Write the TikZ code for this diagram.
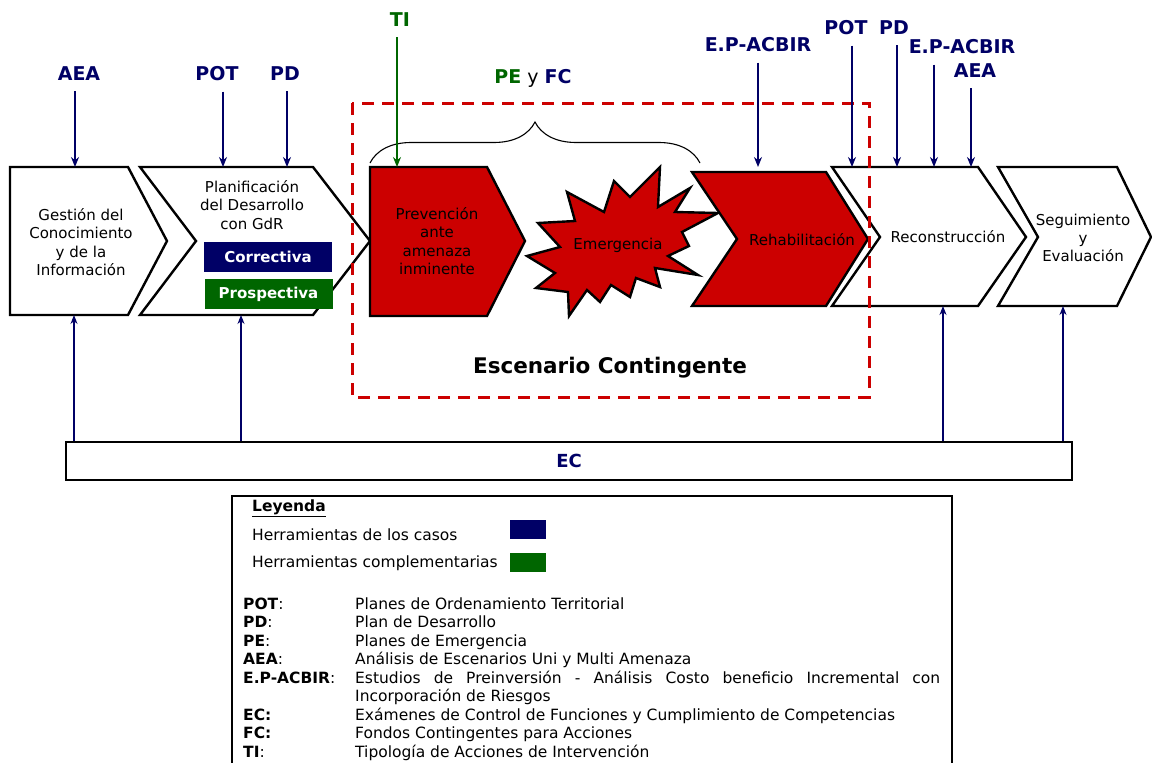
\documentclass[tikz,border=0pt]{standalone}
\usepackage{fontspec}
\setmainfont{DejaVu Sans}
\usetikzlibrary{arrows.meta,decorations.pathreplacing}
\definecolor{casos}{RGB}{0,0,102}
\definecolor{compl}{RGB}{0,102,0}
\definecolor{riesgo}{RGB}{204,0,0}
\hyphenpenalty=10000
\tikzset{
  stage/.style={draw=black, line width=2.4pt, fill=white},
  hot/.style={stage, fill=riesgo},
  txt/.style={align=center, inner sep=0pt, font=\fontsize{15}{18.3}\selectfont},
  chip/.style={inner sep=0pt, minimum width=128pt, minimum height=30pt, text=white, font=\fontsize{15}{18}\selectfont\bfseries},
  tool/.style={font=\fontsize{19}{21}\selectfont\bfseries, text=casos},
  feed/.style={draw=casos, line width=1.6pt, -{Stealth[length=10pt,width=8pt]}, shorten <=7pt},
  back/.style={draw=casos, line width=1.2pt, -{Stealth[length=9pt,width=7pt]}},
  leg/.style={anchor=west, inner sep=0pt, font=\fontsize{15.5}{18.5}\selectfont},
  swatch/.style={inner sep=0pt, minimum width=36pt, minimum height=19pt}
}
\begin{document}
\begin{tikzpicture}[x=1pt, y=-1pt]
\useasboundingbox (0,0) rectangle (1152,763);

\draw[stage] (10,167) -- (128,167) -- (167,241) -- (128,315) -- (10,315) -- cycle;
\draw[stage] (140,167) -- (313,167) -- (370,241) -- (313,315) -- (140,315) -- (196,241) -- cycle;
\draw[hot] (370,167) -- (487,167) -- (525,241) -- (487,316) -- (370,316) -- cycle;
\draw[hot] (527,256) -- (560,247) -- (538,223) -- (575,221) -- (567,192) -- (604,212) -- (614,181) -- (630,197) -- (660,167) -- (658,207) -- (690,188) -- (675,212) -- (718,213) -- (682,232) -- (689,246) -- (668,256) -- (698,275) -- (655,268) -- (660,287) -- (636,278) -- (630,297) -- (611,285) -- (600,302) -- (587,290) -- (569,316) -- (568,292) -- (536,288) -- (555,273) -- cycle;
\draw[hot] (692,172) -- (826,172) -- (868,239) -- (826,306) -- (692,306) -- (737,239) -- cycle;
\draw[stage] (832,167) -- (978,167) -- (1026,237) -- (978,306) -- (832,306) -- (880,237) -- cycle;
\draw[stage] (998,167) -- (1117,167) -- (1151,237) -- (1117,306) -- (998,306) -- (1038,237) -- cycle;

\node[txt] (gc) at (81,242) {Gestión del\\Conocimiento\\y de la\\Información};
\node[txt] (plan) at (252,205) {Planificación\\del Desarrollo\\con GdR};
\node[chip, fill=casos] (corr) at (268,257) {Correctiva};
\node[chip, fill=compl] (prosp) at (268.5,294) {Prospectiva};
\node[txt] (prev) at (437,241) {Prevención\\ante\\amenaza\\inminente};
\node[txt] (emer) at (618,245) {Emergencia};
\node[txt] (rehab) at (802,240) {Rehabilitación};
\node[txt] (recon) at (948,237) {Reconstrucción};
\node[txt] (seg) at (1083,238) {Seguimiento\\y\\Evaluación};

\draw[riesgo, line width=3pt, dash pattern=on 12pt off 8pt] (352,103) rectangle (869,397);
\node[font=\fontsize{21.5}{25}\selectfont\bfseries] (esc) at (610,368) {Escenario Contingente};
\draw[decorate, decoration={brace, amplitude=41pt}, line width=1.1pt] (370,163) -- (700,163);

\node[tool] (aea1) at (79,74) {AEA};
\node[tool] (pot1) at (217,74) {POT};
\node[tool] (pd1) at (285,74) {PD};
\node[tool, text=compl] (ti) at (400,20) {TI};
\node[font=\fontsize{19}{21}\selectfont] (pefc) at (533,78) {\textcolor{compl}{\bfseries PE} y \textcolor{casos}{\bfseries FC}};
\node[tool] (ep1) at (758,45) {E.P-ACBIR};
\node[tool] (pot2) at (846,28) {POT};
\node[tool] (pd2) at (894,28) {PD};
\node[tool] (ep2) at (962,47) {E.P-ACBIR};
\node[tool] (aea2) at (975,71) {AEA};

\coordinate (gc-n) at (75,167);
\coordinate (plan-n1) at (223,167);
\coordinate (plan-n2) at (287,167);
\coordinate (prev-n) at (397,167);
\coordinate (rehab-n) at (758,167);
\coordinate (recon-n1) at (852,167);
\coordinate (recon-n2) at (897,167);
\coordinate (recon-n3) at (934,167);
\coordinate (recon-n4) at (971,167);

\draw[feed] (aea1.south -| gc-n) -- (gc-n);
\draw[feed] (pot1.south -| plan-n1) -- (plan-n1);
\draw[feed] (pd1.south -| plan-n2) -- (plan-n2);
\draw[feed, draw=compl, line width=1.3pt] (ti.south -| prev-n) -- (prev-n);
\draw[feed] (ep1.south -| rehab-n) -- (rehab-n);
\draw[feed] (pot2.south -| recon-n1) -- (recon-n1);
\draw[feed] (pd2.south -| recon-n2) -- (recon-n2);
\draw[feed] (ep2.south -| recon-n3) -- (recon-n3);
\draw[feed] (aea2.south -| recon-n4) -- (recon-n4);

\node[draw, line width=1.2pt, minimum width=1006pt, minimum height=38pt, font=\fontsize{18}{20}\selectfont\bfseries, text=casos] (ec) at (569,461) {EC};
\coordinate (gc-s) at (74,315);
\coordinate (plan-s) at (241,315);
\coordinate (recon-s) at (943,306);
\coordinate (seg-s) at (1063,306);
\draw[back] (gc-s |- ec.north) -- (gc-s);
\draw[back] (plan-s |- ec.north) -- (plan-s);
\draw[back] (recon-s |- ec.north) -- (recon-s);
\draw[back] (seg-s |- ec.north) -- (seg-s);

\draw[line width=1.5pt] (232,496) rectangle (952,780);
\node[leg, font=\fontsize{15.5}{18.5}\selectfont\bfseries] (ley) at (252,508) {\underline{Leyenda}};
\node[leg] (h-casos) at (252,535) {Herramientas de los casos};
\node[leg] (h-compl) at (252,563) {Herramientas complementarias};
\node[swatch, fill=casos] (sw-casos) at (528,529.5) {};
\node[swatch, fill=compl] (sw-compl) at (528,562.5) {};
\node[leg, anchor=north west] (abbr) at (243,596) {\begin{tabular}{@{}p{112pt}@{}p{585pt}@{}}
\textbf{POT}: & Planes de Ordenamiento Territorial\\
\textbf{PD}: & Plan de Desarrollo\\
\textbf{PE}: & Planes de Emergencia\\
\textbf{AEA}: & Análisis de Escenarios Uni y Multi Amenaza\\
\textbf{E.P-ACBIR}: & Estudios de Preinversión - Análisis Costo beneficio Incremental con Incorporación de Riesgos\\
\textbf{EC:} & Exámenes de Control de Funciones y Cumplimiento de Competencias\\
\textbf{FC:} & Fondos Contingentes para Acciones\\
\textbf{TI}: & Tipología de Acciones de Intervención
\end{tabular}};
\end{tikzpicture}
\end{document}
